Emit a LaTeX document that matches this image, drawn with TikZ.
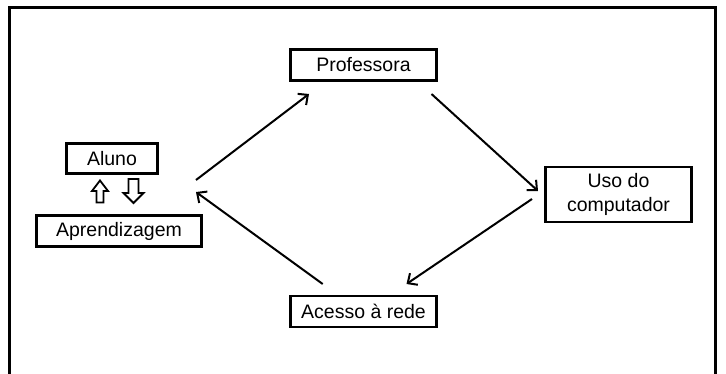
\documentclass[tikz,border=0pt]{standalone}
\usepackage{fontspec}
\setmainfont{Liberation Sans}
\usetikzlibrary{arrows.meta}
\begin{document}
\begin{tikzpicture}[x=1pt,y=-1pt,
  box/.style={draw, line width=2.4pt, inner sep=0pt, align=center,
    font=\fontsize{19.5}{24.4}\selectfont},
  flow/.style={line width=2pt, -{Straight Barb[length=7.5pt,width=14pt,line width=2pt]}},
  blockarrow/.style={draw, line width=1.8pt, line join=miter, fill=white}]
\useasboundingbox (0,0) rectangle (726,374);
\begin{scope}
  \clip (0,0) rectangle (726,374);
  \draw[line width=3pt] (9.5,400) -- (9.5,7.5) -- (715.5,7.5) -- (715.5,400);
\end{scope}
% nodes
\node[box, minimum width=146pt, minimum height=31pt] (prof) at (363.5,65) {Professora};
\node[box, minimum width=146pt, minimum height=31pt] (rede) at (363.5,311.5) {Acesso à rede};
\node[box, minimum width=146pt, minimum height=55pt] (uso) at (618.5,194.5) {Uso do\\computador};
\node[box, minimum width=91pt, minimum height=30pt] (aluno) at (112,158.5) {Aluno};
\node[box, minimum width=165pt, minimum height=31pt] (aprend) at (119,231) {Aprendizagem};
% connector end points
\coordinate (a1) at (196,180);
\coordinate (a2) at (309,94);
\coordinate (b1) at (431.5,94);
\coordinate (b2) at (538,191);
\coordinate (c1) at (532,199);
\coordinate (c2) at (406.5,284);
\coordinate (d1) at (322.7,284);
\coordinate (d2) at (196,192);
\draw[flow] (a1) -- (a2);
\draw[flow] (b1) -- (b2);
\draw[flow] (c1) -- (c2);
\draw[flow] (d1) -- (d2);
% block arrows between Aluno and Aprendizagem
\draw[blockarrow] (100,180.5) -- (108,191) -- (103.5,191) -- (103.5,202.5)
  -- (96.5,202.5) -- (96.5,191) -- (92,191) -- cycle;
\draw[blockarrow] (133.5,203) -- (143.5,193) -- (138.5,193) -- (138.5,179)
  -- (128.5,179) -- (128.5,193) -- (123.5,193) -- cycle;
\end{tikzpicture}
\end{document}
